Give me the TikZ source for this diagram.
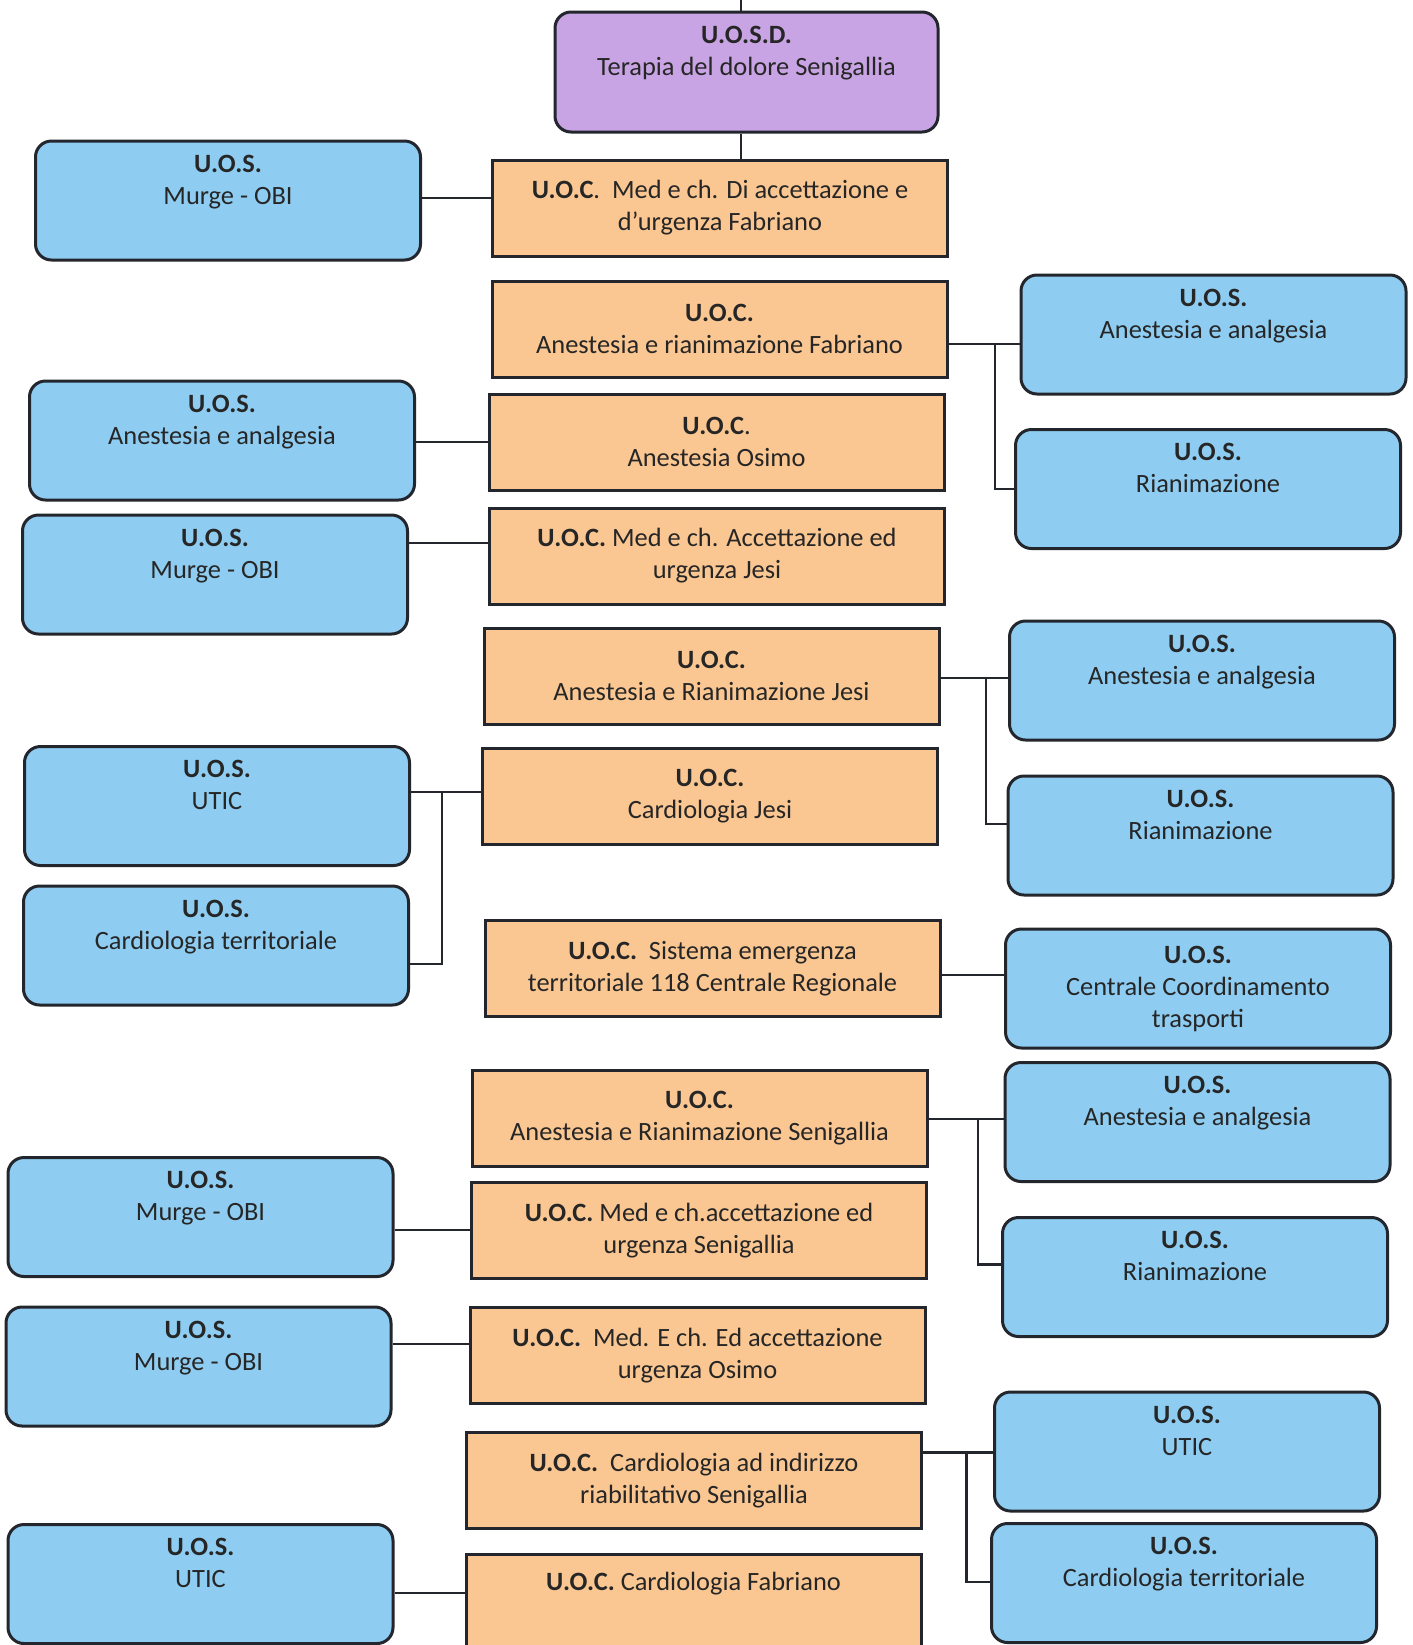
\documentclass[tikz,border=0pt]{standalone}
\usepackage{fontspec}
\setmainfont{Carlito}
\usepackage{tikz}

\definecolor{uosblue}{RGB}{142,205,241}
\definecolor{uocorange}{RGB}{250,199,146}
\definecolor{uosdpurple}{RGB}{201,164,228}
\definecolor{boxline}{RGB}{35,38,45}

\begin{document}
\begin{tikzpicture}[x=0.5pt, y=-0.5pt, line width=1.3pt,
        every node/.style={font=\fontsize{13.2}{16}\selectfont, text=black!85, align=center, inner sep=0pt},
        uos/.style={draw=boxline, line width=1.5pt, fill=uosblue, rounded corners=8pt, minimum width=192.5pt, minimum height=59.5pt},
        uoc/.style={draw=boxline, line width=1.5pt, fill=uocorange, minimum width=227.5pt, minimum height=48pt},
        uosd/.style={draw=boxline, line width=1.5pt, fill=uosdpurple, rounded corners=8pt, minimum width=191.5pt, minimum height=60pt}]
        \fill[white] (0,0) rectangle (1413,1645);
        \useasboundingbox (0,0) rectangle (1413,1645);

        \node[uosd] (terapia) at (746.5,72) {\textbf{U.O.S.D.}\\Terapia del dolore Senigallia\\\strut};

        \node[uoc] (accFab) at (720,208) {\textbf{U.O.C}.\ \ Med e ch. Di accettazione e\\d’urgenza Fabriano};
        \node[uoc] (anesFab) at (719.5,329) {\textbf{U.O.C.}\\Anestesia e rianimazione Fabriano};
        \node[uoc] (anesOsimo) at (716.5,442) {\textbf{U.O.C}.\\Anestesia Osimo};
        \node[uoc] (accJesi) at (717,556) {\textbf{U.O.C.} Med e ch. Accettazione ed\\urgenza Jesi};
        \node[uoc] (anesJesi) at (711.5,676) {\textbf{U.O.C.}\\Anestesia e Rianimazione Jesi};
        \node[uoc] (cardJesi) at (710,796.5) {\textbf{U.O.C.}\\Cardiologia Jesi};
        \node[uoc] (emerg118) at (712.5,968.5) {\textbf{U.O.C.}\ \ Sistema emergenza\\territoriale 118 Centrale Regionale};
        \node[uoc] (anesSen) at (699.5,1118) {\textbf{U.O.C.}\\Anestesia e Rianimazione Senigallia};
        \node[uoc] (accSen) at (699,1230.5) {\textbf{U.O.C.} Med e ch.accettazione ed\\urgenza Senigallia};
        \node[uoc] (accOsimo) at (697.5,1355.5) {\textbf{U.O.C.}\ \ Med. E ch. Ed accettazione\\urgenza Osimo};
        \node[uoc] (cardSen) at (694,1480.5) {\textbf{U.O.C.}\ \ Cardiologia ad indirizzo\\riabilitativo Senigallia};
        \node[uoc] (cardFab) at (693.5,1602) {\textbf{U.O.C.} Cardiologia Fabriano\\\strut};

        \node[uos] (obiFab) at (228,200.5) {\textbf{U.O.S.}\\Murge - OBI\\\strut};
        \node[uos] (analgOsimo) at (222,440.5) {\textbf{U.O.S.}\\Anestesia e analgesia\\\strut};
        \node[uos] (obiJesi) at (215,574.5) {\textbf{U.O.S.}\\Murge - OBI\\\strut};
        \node[uos] (uticJesi) at (217,806) {\textbf{U.O.S.}\\UTIC\\\strut};
        \node[uos] (terrJesi) at (216,945.5) {\textbf{U.O.S.}\\Cardiologia territoriale\\\strut};
        \node[uos] (obiSen) at (200.5,1217) {\textbf{U.O.S.}\\Murge - OBI\\\strut};
        \node[uos] (obiOsimo) at (198.5,1366.5) {\textbf{U.O.S.}\\Murge - OBI\\\strut};
        \node[uos] (uticFab) at (200.5,1584) {\textbf{U.O.S.}\\UTIC\\\strut};

        \node[uos] (analgFab) at (1213.5,334.5) {\textbf{U.O.S.}\\Anestesia e analgesia\\\strut};
        \node[uos] (rianFab) at (1208,489) {\textbf{U.O.S.}\\Rianimazione\\\strut};
        \node[uos] (analgJesi) at (1202,680.5) {\textbf{U.O.S.}\\Anestesia e analgesia\\\strut};
        \node[uos] (rianJesi) at (1200.5,835.5) {\textbf{U.O.S.}\\Rianimazione\\\strut};
        \node[uos] (trasp) at (1198,988.5) {\textbf{U.O.S.}\\Centrale Coordinamento\\trasporti};
        \node[uos] (analgSen) at (1197.5,1122) {\textbf{U.O.S.}\\Anestesia e analgesia\\\strut};
        \node[uos] (rianSen) at (1195,1277) {\textbf{U.O.S.}\\Rianimazione\\\strut};
        \node[uos] (uticSen) at (1187,1451.5) {\textbf{U.O.S.}\\UTIC\\\strut};
        \node[uos] (terrSen) at (1184,1583) {\textbf{U.O.S.}\\Cardiologia territoriale\\\strut};

        \coordinate (top) at (741,0);
        \coordinate (busFab) at (995,344);
        \coordinate (busJesi) at (986,678);
        \coordinate (busCard) at (442,792);
        \coordinate (busSen) at (978,1119);
        \coordinate (busRiab) at (966.6,1452.5);

        \draw[boxline] (terapia.north -| top) -- (top);
        \draw[boxline] (terapia.south -| top) -- (accFab.north -| top);

        \draw[boxline] (obiFab.east |- 0,198) -- (accFab.west |- 0,198);
        \draw[boxline] (analgOsimo.east |- 0,442) -- (anesOsimo.west |- 0,442);
        \draw[boxline] (obiJesi.east |- 0,543) -- (accJesi.west |- 0,543);
        \draw[boxline] (cardJesi.west |- busCard) -- (uticJesi.east |- busCard);
        \draw[boxline] (busCard) |- (terrJesi.east |- 0,964);
        \draw[boxline] (obiSen.east |- 0,1230) -- (accSen.west |- 0,1230);
        \draw[boxline] (obiOsimo.east |- 0,1344) -- (accOsimo.west |- 0,1344);
        \draw[boxline] (uticFab.east |- 0,1593) -- (cardFab.west |- 0,1593);

        \draw[boxline] (anesFab.east |- busFab) -- (analgFab.west |- busFab);
        \draw[boxline] (busFab) |- (rianFab.west);
        \draw[boxline] (anesJesi.east |- busJesi) -- (analgJesi.west |- busJesi);
        \draw[boxline] (busJesi) |- (rianJesi.west |- 0,824);
        \draw[boxline] (emerg118.east |- 0,975) -- (trasp.west |- 0,975);
        \draw[boxline] (anesSen.east |- busSen) -- (analgSen.west |- busSen);
        \draw[boxline] (busSen) |- (rianSen.west |- 0,1264.5);
        \draw[boxline] (cardSen.east |- busRiab) -- (uticSen.west |- busRiab);
        \draw[boxline] (busRiab) |- (terrSen.west |- 0,1582);

\end{tikzpicture}
\end{document}
